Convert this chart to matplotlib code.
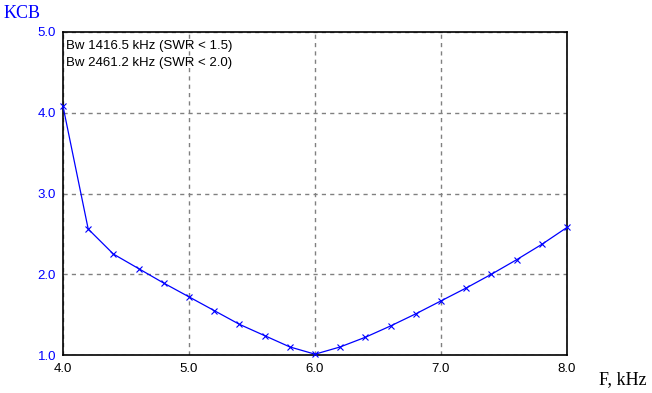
import matplotlib
matplotlib.use("Agg")
import matplotlib.pyplot as plt
import numpy as np

# frequency (kHz) and SWR values
freq = [4.0, 4.2, 4.4, 4.6, 4.8, 5.0, 5.2, 5.4, 5.6, 5.8, 6.0,
        6.2, 6.4, 6.6, 6.8, 7.0, 7.2, 7.4, 7.6, 7.8, 8.0]
swr = [4.08, 2.56, 2.25, 2.07, 1.89, 1.72, 1.55, 1.38, 1.24, 1.10, 1.01,
       1.10, 1.22, 1.36, 1.51, 1.67, 1.83, 2.00, 2.18, 2.37, 2.58]

xticks = [4.0, 5.0, 6.0, 7.0, 8.0]
yticks = [1.0, 2.0, 3.0, 4.0, 5.0]
info = ["Bw 1416.5 kHz (SWR < 1.5)", "Bw 2461.2 kHz (SWR < 2.0)"]

plt.rcParams['font.family'] = ['Liberation Sans', 'DejaVu Sans']

fig = plt.figure(figsize=(6.52, 3.93), dpi=100)
ax = fig.add_axes([63 / 652, 38 / 393, 504 / 652, 323 / 393])

ax.plot(freq, swr, color='#0000ff', linewidth=0.9, marker='x', markersize=5,
        markeredgewidth=0.8, clip_on=False, zorder=3)

ax.set_xlim(4, 8)
ax.set_ylim(1, 5)
ax.set_xticks(xticks)
ax.set_yticks(yticks)
ax.set_xticklabels(['%.1f' % v for v in xticks], fontsize=9.5, color='black')
ax.set_yticklabels(['%.1f' % v for v in yticks], fontsize=9.5, color='#0000ff')
ax.tick_params(axis='y', length=0, pad=5)
ax.tick_params(axis='x', length=0, pad=6)
ax.grid(True, color='#808080', linestyle=(0, (3, 3)), linewidth=1)
for s in ax.spines.values():
    s.set_color('black')
    s.set_linewidth(1.2)

ax.text(0.006, 0.975, "\n".join(info), transform=ax.transAxes, fontsize=9.5,
        va='top', ha='left', linespacing=1.5)

fig.text(4 / 652, 1 - 13 / 393, "KCB", family='Liberation Serif', fontsize=13,
         color='#0000ff', va='center', ha='left')
fig.text(647 / 652, 1 - 380 / 393, "F, kHz", family='Liberation Serif',
         fontsize=13, color='black', va='center', ha='right')

fig.savefig("out.png", dpi=100)
